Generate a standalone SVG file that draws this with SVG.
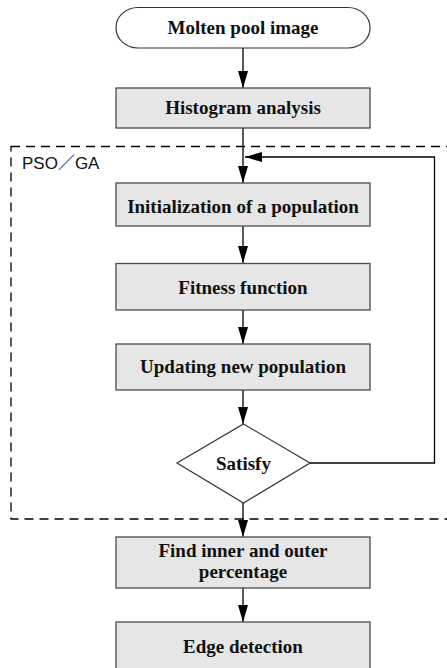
<svg xmlns="http://www.w3.org/2000/svg" width="447" height="668" viewBox="0 0 447 668">
<style>
.box{fill:#e6e6e6;stroke:#4a4a4a;stroke-width:1.3}
.term{fill:#ffffff;stroke:#333;stroke-width:1.2}
.lbl{font-family:"Liberation Serif","Times New Roman",serif;font-weight:bold;font-size:19px;fill:#111;text-anchor:middle}
.line{fill:none;stroke:#000;stroke-width:1.3}
.dash{fill:none;stroke:#000;stroke-width:1.3;stroke-dasharray:9,6}
</style>
<defs>
<marker id="ah" viewBox="0 0 17 10" refX="17" refY="5" markerWidth="17" markerHeight="10" markerUnits="userSpaceOnUse" orient="auto">
<path d="M0,0 L17,5 L0,10 Z" fill="#000"/>
</marker>
</defs>
<rect x="11" y="146.5" width="440" height="372.5" class="dash"/>
<text x="22" y="169" font-family="'Liberation Sans','Noto Sans CJK SC',sans-serif" font-size="17" fill="#111">PSO／GA</text>
<g id="connectors">
<line x1="243" y1="48" x2="243" y2="88" class="line" marker-end="url(#ah)"/>
<line x1="243" y1="128" x2="243" y2="183" class="line" marker-end="url(#ah)"/>
<line x1="243" y1="226" x2="243" y2="263" class="line" marker-end="url(#ah)"/>
<line x1="243" y1="310" x2="243" y2="344" class="line" marker-end="url(#ah)"/>
<line x1="243" y1="390" x2="243" y2="424" class="line" marker-end="url(#ah)"/>
<line x1="243" y1="503" x2="243" y2="537" class="line" marker-end="url(#ah)"/>
<line x1="243" y1="588" x2="243" y2="622" class="line" marker-end="url(#ah)"/>
<polyline points="310,463 434.5,463 434.5,157 245,157" class="line" marker-end="url(#ah)"/>
</g>
<g id="n1"><rect x="116" y="7.5" width="254" height="40.5" rx="22" ry="20" class="term"/><text x="243" y="34" class="lbl">Molten pool image</text></g>
<g id="n2"><rect x="116" y="88" width="254" height="40" class="box"/><text x="243" y="113.5" class="lbl">Histogram analysis</text></g>
<g id="n3"><rect x="116" y="183" width="254" height="43" class="box"/><text x="243" y="212.5" class="lbl">Initialization of a population</text></g>
<g id="n4"><rect x="116" y="263.5" width="254" height="46.5" class="box"/><text x="243" y="293.5" class="lbl">Fitness function</text></g>
<g id="n5"><rect x="116" y="344" width="254" height="46" class="box"/><text x="243" y="372.5" class="lbl">Updating new population</text></g>
<g id="n6"><polygon points="243.5,424 310,463 243.5,503 177,463" fill="#fff" stroke="#333" stroke-width="1.2"/><text x="243.5" y="470" class="lbl">Satisfy</text></g>
<g id="n7"><rect x="116" y="537" width="254" height="51" class="box"/><text x="243" y="557" class="lbl">Find inner and outer</text><text x="243" y="577.5" class="lbl">percentage</text></g>
<g id="n8"><rect x="116" y="622" width="254" height="48" class="box"/><text x="243" y="652.5" class="lbl">Edge detection</text></g>
</svg>
